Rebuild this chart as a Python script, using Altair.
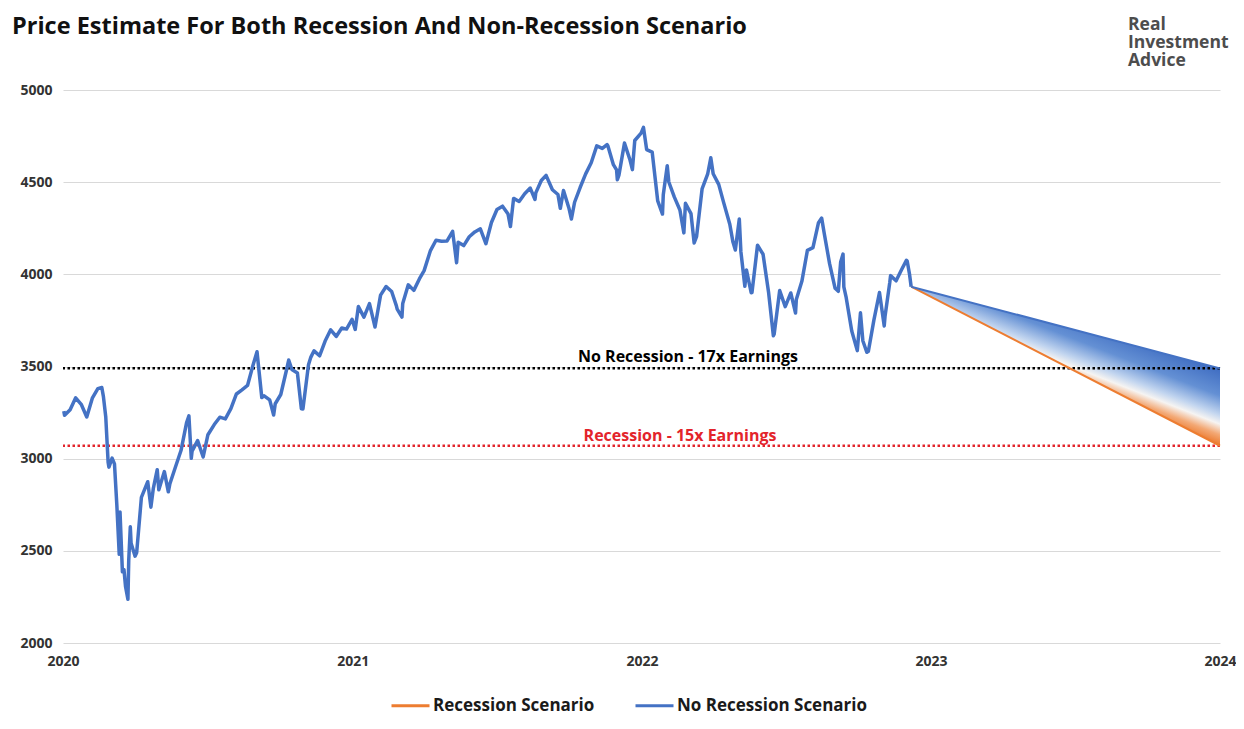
import altair as alt
import pandas as pd

# ---------------- data ----------------
dates = [
    "2020-01-02", "2020-01-03", "2020-01-10", "2020-01-17", "2020-01-24", "2020-01-31",
    "2020-02-07", "2020-02-14", "2020-02-19", "2020-02-21", "2020-02-24", "2020-02-27",
    "2020-02-28", "2020-03-03", "2020-03-06", "2020-03-09", "2020-03-12", "2020-03-13",
    "2020-03-16", "2020-03-18", "2020-03-20", "2020-03-23", "2020-03-24", "2020-03-26",
    "2020-03-27", "2020-04-01", "2020-04-03", "2020-04-09", "2020-04-17", "2020-04-21",
    "2020-04-24", "2020-04-29", "2020-05-01", "2020-05-08", "2020-05-13", "2020-05-15",
    "2020-05-22", "2020-05-29", "2020-06-05", "2020-06-08", "2020-06-11", "2020-06-12",
    "2020-06-19", "2020-06-26", "2020-07-02", "2020-07-10", "2020-07-17", "2020-07-24",
    "2020-07-31", "2020-08-07", "2020-08-14", "2020-08-21", "2020-08-28", "2020-09-02",
    "2020-09-08", "2020-09-11", "2020-09-18", "2020-09-23", "2020-09-25", "2020-10-02",
    "2020-10-09", "2020-10-12", "2020-10-16", "2020-10-23", "2020-10-28", "2020-10-30",
    "2020-11-06", "2020-11-09", "2020-11-13", "2020-11-20", "2020-11-27", "2020-12-04",
    "2020-12-11", "2020-12-18", "2020-12-24", "2020-12-31",
    "2021-01-04", "2021-01-08", "2021-01-15", "2021-01-22", "2021-01-27", "2021-01-29",
    "2021-02-05", "2021-02-12", "2021-02-19", "2021-02-25", "2021-02-26", "2021-03-04",
    "2021-03-05", "2021-03-12", "2021-03-19", "2021-03-26", "2021-04-01", "2021-04-09",
    "2021-04-16", "2021-04-23", "2021-04-30", "2021-05-07", "2021-05-12", "2021-05-14",
    "2021-05-21", "2021-05-28", "2021-06-04", "2021-06-11", "2021-06-18", "2021-06-25",
    "2021-07-02", "2021-07-09", "2021-07-16", "2021-07-19", "2021-07-23", "2021-07-30",
    "2021-08-06", "2021-08-13", "2021-08-19", "2021-08-20", "2021-08-27", "2021-09-02",
    "2021-09-10", "2021-09-17", "2021-09-20", "2021-09-24", "2021-10-01", "2021-10-04",
    "2021-10-08", "2021-10-15", "2021-10-22", "2021-10-29", "2021-11-05", "2021-11-12",
    "2021-11-18", "2021-11-19", "2021-11-26", "2021-11-30", "2021-12-01", "2021-12-03",
    "2021-12-10", "2021-12-17", "2021-12-20", "2021-12-23", "2021-12-31",
    "2022-01-03", "2022-01-07", "2022-01-14", "2022-01-21", "2022-01-27", "2022-01-28",
    "2022-02-02", "2022-02-04", "2022-02-11", "2022-02-18", "2022-02-23", "2022-02-25",
    "2022-03-04", "2022-03-08", "2022-03-11", "2022-03-18", "2022-03-25", "2022-03-29",
    "2022-04-01", "2022-04-08", "2022-04-14", "2022-04-22", "2022-04-26", "2022-04-29",
    "2022-05-04", "2022-05-06", "2022-05-11", "2022-05-13", "2022-05-19", "2022-05-20",
    "2022-05-27", "2022-06-03", "2022-06-10", "2022-06-16", "2022-06-17", "2022-06-24",
    "2022-07-01", "2022-07-08", "2022-07-14", "2022-07-15", "2022-07-22", "2022-07-29",
    "2022-08-05", "2022-08-12", "2022-08-16", "2022-08-19", "2022-08-26", "2022-09-02",
    "2022-09-06", "2022-09-09", "2022-09-12", "2022-09-13", "2022-09-16", "2022-09-23",
    "2022-09-30", "2022-10-04", "2022-10-07", "2022-10-12", "2022-10-14", "2022-10-21",
    "2022-10-28", "2022-11-03", "2022-11-04", "2022-11-10", "2022-11-11", "2022-11-18",
    "2022-11-25", "2022-12-01", "2022-12-02", "2022-12-05", "2022-12-07",
]
prices = [
    3258, 3235, 3265, 3330, 3295, 3226,
    3328, 3380, 3386, 3338, 3226, 2979,
    2954, 3003, 2972, 2747, 2481, 2711,
    2386, 2398, 2305, 2237, 2447, 2630,
    2541, 2471, 2489, 2790, 2875, 2737,
    2837, 2940, 2831, 2930, 2820, 2864,
    2955, 3044, 3194, 3232, 3002, 3041,
    3098, 3009, 3130, 3185, 3225, 3216,
    3271, 3351, 3373, 3397, 3508, 3580,
    3332, 3341, 3319, 3237, 3298, 3348,
    3477, 3535, 3484, 3465, 3271, 3270,
    3510, 3551, 3585, 3558, 3638, 3699,
    3663, 3709, 3703, 3756,
    3701, 3825, 3768, 3841, 3750, 3714,
    3887, 3934, 3907, 3829, 3811, 3768,
    3842, 3943, 3913, 3975, 4020, 4129,
    4185, 4180, 4181, 4233, 4063, 4174,
    4156, 4204, 4230, 4247, 4166, 4281,
    4352, 4370, 4327, 4259, 4412, 4395,
    4437, 4468, 4406, 4442, 4509, 4537,
    4459, 4433, 4358, 4455, 4357, 4300,
    4391, 4471, 4545, 4605, 4697, 4683,
    4704, 4698, 4595, 4567, 4513, 4538,
    4712, 4620, 4568, 4726, 4766,
    4797, 4677, 4663, 4398, 4327, 4432,
    4589, 4501, 4419, 4349, 4225, 4385,
    4329, 4170, 4204, 4463, 4543, 4632,
    4546, 4488, 4393, 4272, 4175, 4132,
    4300, 4123, 3935, 4024, 3900, 3901,
    4158, 4109, 3901, 3667, 3675, 3912,
    3825, 3899, 3790, 3863, 3962, 4130,
    4145, 4280, 4305, 4228, 4058, 3924,
    3908, 4067, 4110, 3932, 3873, 3693,
    3586, 3791, 3640, 3577, 3583, 3753,
    3901, 3720, 3771, 3956, 3993, 3965,
    4026, 4076, 4072, 3999, 3933,
]

proj_dates = ["2022-12-07", "2024-01-01"]
no_recession_path = [3933, 3490]
recession_path = [3933, 3070]
scenario_names = ["Recession Scenario", "No Recession Scenario"]
scenario_colors = ["#ed7d31", "#4472c4"]

level_labels = ["No Recession - 17x Earnings", "Recession - 15x Earnings"]
level_values = [3490, 3070]
level_colors = ["#000000", "#e3242b"]

y_ticks = [2000, 2500, 3000, 3500, 4000, 4500, 5000]
x_years = [2020, 2021, 2022, 2023, 2024]

title_text = "Price Estimate For Both Recession And Non-Recession Scenario"
logo_lines = ["Real", "Investment", "Advice"]

# ---------------- tables ----------------
hist = pd.DataFrame({"date": dates, "price": prices})
fan = pd.DataFrame({"date": proj_dates, "top": no_recession_path, "bottom": recession_path})
proj = pd.DataFrame({
    "date": proj_dates * 2,
    "price": recession_path + no_recession_path,
    "scenario": [scenario_names[0]] * 2 + [scenario_names[1]] * 2,
})

FONT = "Open Sans"

x_scale = alt.Scale(type="utc",
                    domain=[alt.DateTime(year=2020, month=1, date=1, utc=True),
                            alt.DateTime(year=2024, month=1, date=1, utc=True)])
y_scale = alt.Scale(domain=[2000, 5000], nice=False, zero=False)
x_axis = alt.Axis(values=[alt.DateTime(year=y, month=1, date=1, utc=True) for y in x_years],
                  format="%Y", formatType="utc", grid=False, domain=False, ticks=False,
                  labelFlush=False, labelPadding=11, title=None, labelFontSize=14,
                  labelFont=FONT, labelFontWeight="bold", labelColor="#333333")
y_axis = alt.Axis(values=y_ticks, format="d", grid=True, gridColor="#d9d9d9", gridWidth=1,
                  domain=False, ticks=False, labelPadding=11, title=None,
                  labelFontSize=14, labelFont=FONT, labelFontWeight="bold",
                  labelColor="#333333")

X = alt.X("date:T", scale=x_scale, axis=x_axis)

gradient = alt.Gradient(
    gradient="linear",
    x1=0.6165, y1=0.2253, x2=0.3835, y2=0.5327,
    stops=[
        alt.GradientStop(color="#3f6dc2", offset=0),
        alt.GradientStop(color="#6490d4", offset=0.35),
        alt.GradientStop(color="#c2d5ef", offset=0.6),
        alt.GradientStop(color="#f6f4f2", offset=0.72),
        alt.GradientStop(color="#f3a874", offset=0.86),
        alt.GradientStop(color="#ec7a2e", offset=1),
    ],
)

area = alt.Chart(fan).mark_area(color=gradient, opacity=1).encode(
    x=X,
    y=alt.Y("top:Q", scale=y_scale, axis=y_axis),
    y2="bottom:Q",
)

rules = []
labels = []
label_x = [625, 617]
label_dy = [-11, -10]
for name, val, col, lx, dy in zip(level_labels, level_values, level_colors, label_x, label_dy):
    d = pd.DataFrame({"value": [val], "label": [name]})
    rules.append(
        alt.Chart(d).mark_rule(color=col, strokeWidth=2.5, strokeDash=[2.5, 2.5]).encode(
            y=alt.Y("value:Q", scale=y_scale, axis=y_axis)
        )
    )
    labels.append(
        alt.Chart(d).mark_text(color=col, font=FONT, fontSize=16, fontWeight="bold",
                               align="center", baseline="middle", dy=dy).encode(
            x=alt.value(lx),
            y=alt.Y("value:Q", scale=y_scale, axis=y_axis),
            text="label:N",
        )
    )

hist_line = alt.Chart(hist).mark_line(color="#4472c4", strokeWidth=3.5,
                                      strokeJoin="round").encode(
    x=X,
    y=alt.Y("price:Q", scale=y_scale, axis=y_axis),
)

proj_lines = alt.Chart(proj).mark_line(strokeWidth=2).encode(
    x=X,
    y=alt.Y("price:Q", scale=y_scale, axis=y_axis),
    color=alt.Color(
        "scenario:N",
        scale=alt.Scale(domain=scenario_names, range=scenario_colors),
        sort=scenario_names,
        legend=alt.Legend(
            orient="none", legendX=327, legendY=595, direction="horizontal",
            title=None, symbolType="stroke", symbolSize=1444, symbolStrokeWidth=3,
            labelFont=FONT, labelFontSize=17, labelFontWeight="bold",
            labelColor="#1a1a1a", columnPadding=34, labelOffset=2, labelLimit=400,
        ),
    ),
)

title = alt.Chart(alt.Data(values=[{"t": title_text}])).mark_text(
    font=FONT, fontSize=23.5, fontWeight="bold", color="#111111",
    align="left", baseline="middle"
).encode(x=alt.value(-51), y=alt.value(-63), text="t:N")

logo_y = [-65, -47, -29]
logo = []
for line, ly in zip(logo_lines, logo_y):
    logo.append(
        alt.Chart(alt.Data(values=[{"t": line}])).mark_text(
            font=FONT, fontSize=17.5, fontWeight="bold", color="#4d4d4d",
            align="left", baseline="middle"
        ).encode(x=alt.value(1065), y=alt.value(ly), text="t:N")
    )

chart = alt.layer(area, *rules, *labels, hist_line, proj_lines, title, *logo).properties(
    width=1157,
    height=553,
    autosize=alt.AutoSizeParams(type="none"),
    padding={"left": 55, "top": 82, "right": 16, "bottom": 80},
).configure_view(stroke=None)

chart.save("out.html", embed_options={"renderer": "svg", "actions": False})
